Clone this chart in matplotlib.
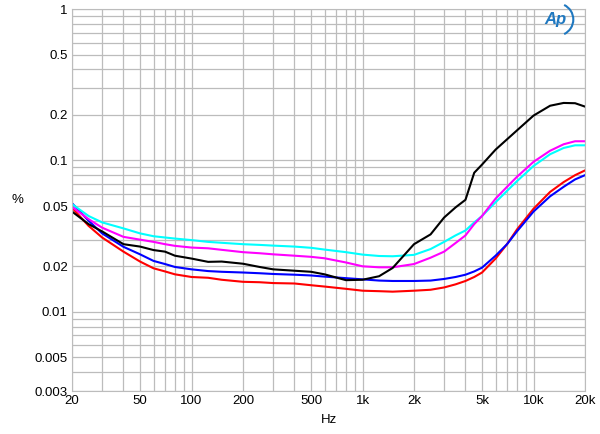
import matplotlib
matplotlib.use("Agg")
import matplotlib.pyplot as plt
import numpy as np
from matplotlib.ticker import FixedLocator, NullFormatter
from matplotlib.patches import Arc

freq = [20, 25, 30, 40, 50, 60, 70, 80, 100, 125, 150, 200, 250, 300, 400, 500,
        600, 800, 1000, 1250, 1500, 2000, 2500, 3000, 3500, 4000, 4500, 5000,
        6000, 7000, 8000, 10000, 12500, 15000, 17500, 20000]

black = [0.046, 0.038, 0.034, 0.028, 0.027, 0.0256, 0.025, 0.0235, 0.0225, 0.0214,
         0.0215, 0.0208, 0.0198, 0.0191, 0.0187, 0.0184, 0.0177, 0.0162, 0.0163,
         0.0172, 0.0195, 0.028, 0.0325, 0.042, 0.049, 0.055, 0.083, 0.094, 0.118,
         0.138, 0.158, 0.198, 0.230, 0.240, 0.239, 0.227]
magenta = [0.0494, 0.041, 0.036, 0.0313, 0.030, 0.029, 0.028, 0.0273, 0.0266, 0.0263,
           0.0257, 0.0248, 0.0244, 0.0240, 0.0235, 0.0231, 0.0226, 0.0212, 0.0200,
           0.0197, 0.0197, 0.0207, 0.0228, 0.0250, 0.0285, 0.032, 0.038, 0.043,
           0.056, 0.067, 0.078, 0.098, 0.116, 0.128, 0.134, 0.134]
cyan = [0.0515, 0.043, 0.039, 0.0356, 0.033, 0.0316, 0.031, 0.0305, 0.0298, 0.0290,
        0.0286, 0.0280, 0.0277, 0.0274, 0.0270, 0.0265, 0.0258, 0.0248, 0.0239,
        0.0234, 0.0233, 0.0238, 0.0260, 0.0290, 0.032, 0.0345, 0.039, 0.043,
        0.053, 0.063, 0.073, 0.092, 0.110, 0.121, 0.126, 0.126]
blue = [0.0522, 0.040, 0.033, 0.0269, 0.024, 0.0217, 0.0207, 0.0198, 0.0191, 0.0186,
        0.0184, 0.0182, 0.0180, 0.0178, 0.0176, 0.0174, 0.0171, 0.0167, 0.0164,
        0.0161, 0.0160, 0.0160, 0.0161, 0.0165, 0.0170, 0.0176, 0.0185, 0.0196,
        0.0235, 0.028, 0.034, 0.046, 0.058, 0.067, 0.075, 0.080]
red = [0.0488, 0.037, 0.031, 0.0250, 0.0215, 0.0194, 0.0185, 0.0177, 0.0170, 0.0168,
       0.0163, 0.0158, 0.0157, 0.0155, 0.0154, 0.0150, 0.0147, 0.0142, 0.0138,
       0.0137, 0.0136, 0.0138, 0.0140, 0.0145, 0.0152, 0.0160, 0.0170, 0.0182,
       0.0225, 0.028, 0.035, 0.048, 0.062, 0.072, 0.080, 0.086]

x_ticks = [20, 50, 100, 200, 500, 1000, 2000, 5000, 10000, 20000]
x_labels = ["20", "50", "100", "200", "500", "1k", "2k", "5k", "10k", "20k"]
y_ticks = [0.003, 0.005, 0.01, 0.02, 0.05, 0.1, 0.2, 0.5, 1]
y_labels = ["0.003", "0.005", "0.01", "0.02", "0.05", "0.1", "0.2", "0.5", "1"]

plt.rcParams['font.family'] = ['Liberation Sans', 'DejaVu Sans']

fig = plt.figure(figsize=(6, 4.34), dpi=100)
ax = fig.add_axes([0.12, 0.099, 0.855, 0.88])

series = [(black, 'black'), (magenta, '#ff00ff'), (cyan, '#00ffff'),
          (blue, '#0000ff'), (red, '#ff0000')]
for data, col in series[::-1]:
    ax.plot(freq, data, color=col, lw=1.5)

ax.set_xscale('log')
ax.set_yscale('log')
ax.set_xlim(20, 20000)
ax.set_ylim(0.003, 1)

ax.xaxis.set_major_locator(FixedLocator(x_ticks))
ax.set_xticklabels(x_labels)
ax.yaxis.set_major_locator(FixedLocator(y_ticks))
ax.set_yticklabels(y_labels)

xminor = [m * d for d in [10, 100, 1000, 10000] for m in range(1, 10) if 20 <= m * d <= 20000]
yminor = [m * d for d in [0.001, 0.01, 0.1] for m in range(1, 10) if 0.003 <= m * d <= 1]
ax.xaxis.set_minor_locator(FixedLocator(xminor))
ax.yaxis.set_minor_locator(FixedLocator(yminor))
ax.xaxis.set_minor_formatter(NullFormatter())
ax.yaxis.set_minor_formatter(NullFormatter())

ax.grid(True, which='both', color='#bcbcbc', lw=0.9)
ax.set_axisbelow(True)
ax.tick_params(which='both', length=0, labelsize=9.5, pad=3)
for s in ax.spines.values():
    s.set_color('#bcbcbc')

ax.set_xlabel('Hz', fontsize=9.5, labelpad=5)
fig.text(17 / 600, 1 - 200 / 434, '%', fontsize=9.5, ha='center', va='center')

# Ap logo
fig.text(0.925, 0.955, 'Ap', color='#1f78c0', fontsize=12, fontstyle='italic',
         fontweight='bold', ha='center', va='center')
fig.patches.append(Arc((0.928, 0.955), 0.055, 0.075, theta1=-70, theta2=70,
                       transform=fig.transFigure, color='#1f78c0', lw=1.5))

fig.savefig('out.png', dpi=100)
